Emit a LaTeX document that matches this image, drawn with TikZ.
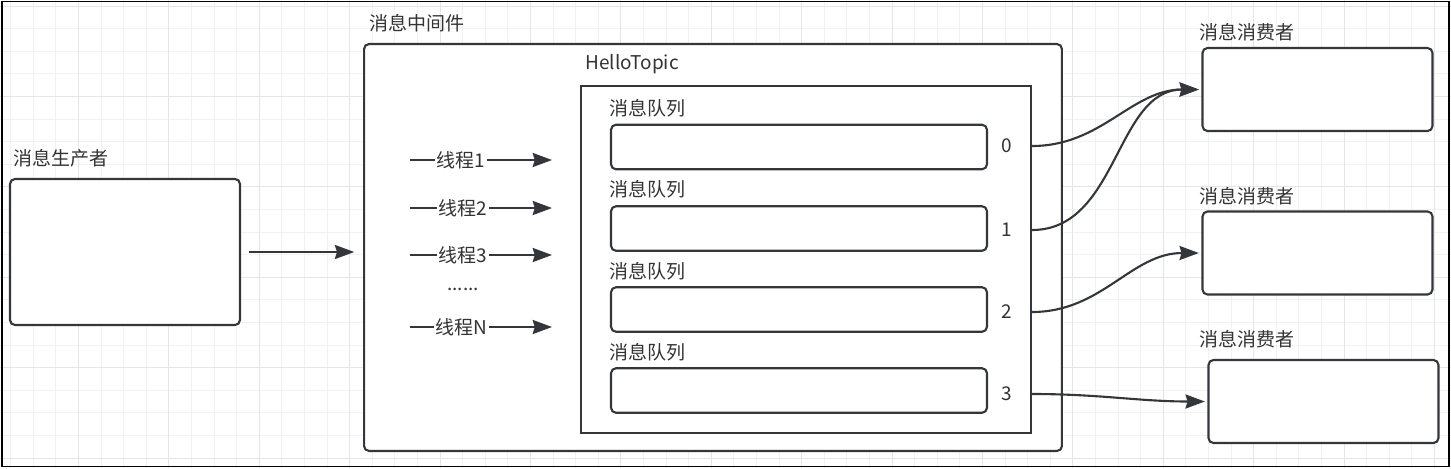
\documentclass[tikz,border=0pt]{standalone}
\usepackage{fontspec}
\setmainfont{Noto Sans CJK SC}
\usetikzlibrary{arrows.meta, positioning, calc}
\definecolor{linec}{HTML}{33363A}
\definecolor{textc}{HTML}{333333}
\definecolor{gridc}{HTML}{F1F1F1}
\definecolor{gridm}{HTML}{E5E5E5}

\begin{document}
\begin{tikzpicture}[
    x=0.02cm, y=-0.02cm,
    font=\fontsize{10.8}{13}\selectfont,
    box/.style={draw=linec, line width=1.2pt, rounded corners=2.8pt, fill=white, inner sep=0},
    topicbox/.style={draw=linec, line width=1.2pt, fill=white, minimum width=9cm, minimum height=6.94cm, inner sep=0},
    queue/.style={box, minimum width=7.52cm, minimum height=0.89cm},
    consumer/.style={box, minimum width=4.6cm, minimum height=1.66cm},
    lbl/.style={text=textc, inner sep=0, anchor=west},
    num/.style={text=textc, inner sep=0},
    thread/.style={fill=white, text=textc, inner sep=1pt},
    arrow/.style={-{Stealth[length=11pt, width=8pt, inset=1.2pt]}, line width=1.2pt, draw=linec}
]
    \useasboundingbox (0,0) rectangle (1451,468);

    % background grid
    \foreach \gx in {0,...,63} \draw[gridc, line width=0.5pt] ({10.7+22.6*\gx},0) -- ++(0,468);
    \foreach \gy in {0,...,20} \draw[gridc, line width=0.5pt] (0,{6+22.6*\gy}) -- ++(1451,0);
    \foreach \gx in {0,...,15} \draw[gridm, line width=0.5pt] ({78.5+90.4*\gx},0) -- ++(0,468);
    \foreach \gy in {0,...,5} \draw[gridm, line width=0.5pt] (0,{6+90.4*\gy}) -- ++(1451,0);
    \draw[black, line width=0.8pt] (2,1.5) rectangle (1449,466.5);

    % producer
    \node[box, minimum width=4.6cm, minimum height=2.92cm] (prod) at (125,252) {};
    \node[lbl] (prodlbl) at (13,158) {消息生产者};

    % middleware
    \node[box, minimum width=13.96cm, minimum height=8.14cm] (mid) at (713,247.5) {};
    \node[lbl] (midlbl) at (369,23) {消息中间件};
    \node[lbl] (topiclbl) at (585,64) {HelloTopic};
    \node[topicbox] (topic) at (806,259.5) {};

    % queues
    \node[queue] (q0) at (799,147) {};
    \node[lbl] (q0lbl) at (609,108) {消息队列};
    \node[num] (n0) at (1007,146) {0};
    \node[queue] (q1) at (799,228.5) {};
    \node[lbl] (q1lbl) at (609,189) {消息队列};
    \node[num] (n1) at (1007,230) {1};
    \node[queue] (q2) at (799,309.5) {};
    \node[lbl] (q2lbl) at (609,271) {消息队列};
    \node[num] (n2) at (1007,312) {2};
    \node[queue] (q3) at (799,390.5) {};
    \node[lbl] (q3lbl) at (609,352) {消息队列};
    \node[num] (n3) at (1007,394) {3};

    % threads
    \coordinate (t1s) at (410,160);
    \coordinate (t1e) at (552,160);
    \coordinate (t2s) at (410,208);
    \coordinate (t2e) at (552,208);
    \coordinate (t3s) at (410,255);
    \coordinate (t3e) at (552,255);
    \coordinate (tNs) at (410,327);
    \coordinate (tNe) at (552,327);
    \draw[arrow] (t1s) -- node[thread, pos=0.36] (t1) {线程1} (t1e);
    \draw[arrow] (t2s) -- node[thread, pos=0.37] (t2) {线程2} (t2e);
    \draw[arrow] (t3s) -- node[thread, pos=0.37] (t3) {线程3} (t3e);
    \node[num] (dots) at (463,289) {......};
    \draw[arrow] (tNs) -- node[thread, pos=0.36] (tN) {线程N} (tNe);

    % consumers
    \node[consumer] (c0) at (1317.5,89.5) {};
    \node[lbl] (c0lbl) at (1199,32) {消息消费者};
    \node[consumer] (c1) at (1317.5,253) {};
    \node[lbl] (c1lbl) at (1199,196) {消息消费者};
    \node[consumer] (c2) at (1323.5,401.5) {};
    \node[lbl] (c2lbl) at (1199,339) {消息消费者};

    % connectors
    \draw[arrow, shorten <=4.5pt, shorten >=5pt] (prod.east) -- (prod.east -| mid.west);
    \draw[arrow, shorten >=1.5pt] (topic.east |- n0) to[out=0, in=180] (c0.west);
    \draw[arrow, shorten >=1.5pt] (topic.east |- n1) to[out=0, in=180] (c0.west);
    \draw[arrow, shorten >=1.5pt] (topic.east |- n2) to[out=0, in=180] (c1.west);
    \draw[arrow, shorten >=1.5pt] (topic.east |- n3) to[out=0, in=180] (c2.west);
\end{tikzpicture}
\end{document}
